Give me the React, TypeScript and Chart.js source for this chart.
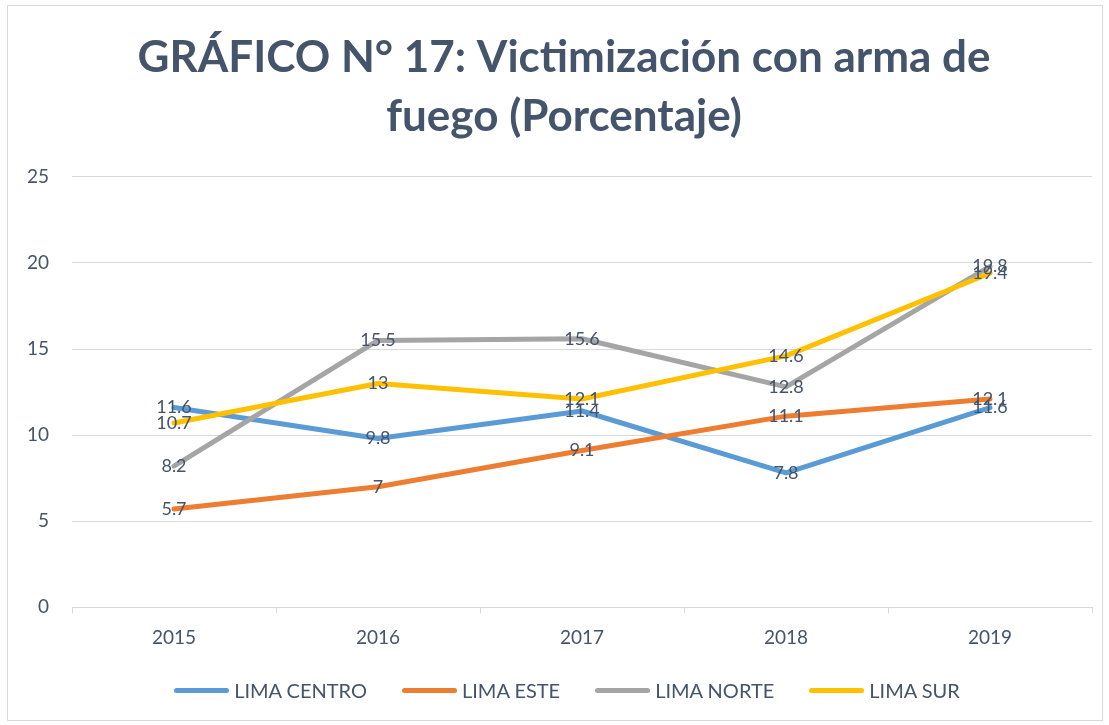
import React, { useEffect, useRef } from "react";
import { Chart, registerables } from "chart.js";

Chart.register(...registerables);

const years = ["2015", "2016", "2017", "2018", "2019"];
const limaCentro = [11.6, 9.8, 11.4, 7.8, 11.6];
const limaEste = [5.7, 7, 9.1, 11.1, 12.1];
const limaNorte = [8.2, 15.5, 15.6, 12.8, 19.8];
const limaSur = [10.7, 13, 12.1, 14.6, 19.4];
const seriesNames = ["LIMA CENTRO", "LIMA ESTE", "LIMA NORTE", "LIMA SUR"];
const seriesColors = ["#5B9BD5", "#ED7D31", "#A5A5A5", "#FFC000"];
const titleLines = ["GRÁFICO N° 17: Victimización con arma de", "fuego (Porcentaje)"];

const TEXT = "#44546A";
const FONT = "Lato, 'Noto Sans', sans-serif";

const labelPlugin = {
  id: "pointLabels",
  afterLayout(chart: any) {
    // centre the title block over the plot like the original
    const t = chart.titleBlock;
    if (t) {
      t.left += 14;
      t.right += 14;
    }
  },
  afterDatasetsDraw(chart: any) {
    const ctx = chart.ctx;
    ctx.save();
    ctx.font = `18px ${FONT}`;
    ctx.fillStyle = TEXT;
    ctx.textAlign = "center";
    ctx.textBaseline = "middle";
    chart.data.datasets.forEach((ds: any, i: number) => {
      const meta = chart.getDatasetMeta(i);
      meta.data.forEach((pt: any, j: number) => {
        ctx.fillText(String(ds.data[j]), pt.x, pt.y);
      });
    });
    ctx.restore();
  },
};

export default function App() {
  const ref = useRef<HTMLCanvasElement>(null);
  useEffect(() => {
    const all = [limaCentro, limaEste, limaNorte, limaSur];
    const chart = new Chart(ref.current!, {
      type: "line",
      data: {
        labels: years,
        datasets: all.map((d, i) => ({
          label: seriesNames[i],
          data: d,
          borderColor: seriesColors[i],
          backgroundColor: seriesColors[i],
          borderWidth: 5,
          borderCapStyle: "round",
          borderJoinStyle: "round",
          pointRadius: 0,
          tension: 0,
          order: 4 - i,
        })),
      },
      options: {
        animation: false,
        responsive: false,
        layout: { padding: { left: 0, right: 10, top: 0, bottom: 58 } },
        plugins: {
          title: {
            display: true,
            text: titleLines,
            color: TEXT,
            font: { family: FONT, size: 44, weight: "bold", lineHeight: 1.34 },
            padding: { top: 22, bottom: 31 },
          },
          legend: { display: false },
          tooltip: { enabled: false },
        },
        scales: {
          x: {
            offset: true,
            grid: {
              offset: true,
              drawOnChartArea: false,
              drawTicks: true,
              tickLength: 6,
              color: "#D9D9D9",
            },
            border: { color: "#D9D9D9" },
            ticks: { color: TEXT, font: { family: FONT, size: 19 }, padding: 13 },
          },
          y: {
            min: 0,
            max: 25,
            ticks: { stepSize: 5, color: TEXT, font: { family: FONT, size: 19 }, padding: 23 },
            grid: { color: "#D9D9D9", drawTicks: false },
            border: { display: false },
            afterFit: (s: any) => {
              s.width = 64;
            },
          },
        },
      },
      plugins: [labelPlugin],
    } as any);
    return () => chart.destroy();
  }, []);
  return (
    <div style={{ position: "fixed", left: 0, top: 0, width: 1109, height: 725, background: "#fff" }}>
      <div
        style={{
          position: "absolute",
          left: 7,
          top: 5,
          width: 1096,
          height: 716,
          border: "1px solid #D9D9D9",
          boxSizing: "border-box",
        }}
      >
        <canvas ref={ref} width={1094} height={714} style={{ display: "block" }} />
        <div
          style={{
            position: "absolute",
            left: 0,
            right: 0,
            top: 672,
            height: 24,
            paddingLeft: 24,
            boxSizing: "border-box",
            display: "flex",
            justifyContent: "center",
            alignItems: "center",
            gap: 35,
            fontFamily: FONT,
            fontSize: 20,
            color: TEXT,
          }}
        >
          {seriesNames.map((n, i) => (
            <div key={n} style={{ display: "flex", alignItems: "center" }}>
              <span
                style={{
                  display: "inline-block",
                  width: 55,
                  height: 5,
                  borderRadius: 3,
                  background: seriesColors[i],
                  marginRight: 5,
                }}
              />
              <span style={{ lineHeight: "24px" }}>{n}</span>
            </div>
          ))}
        </div>
      </div>
    </div>
  );
}
